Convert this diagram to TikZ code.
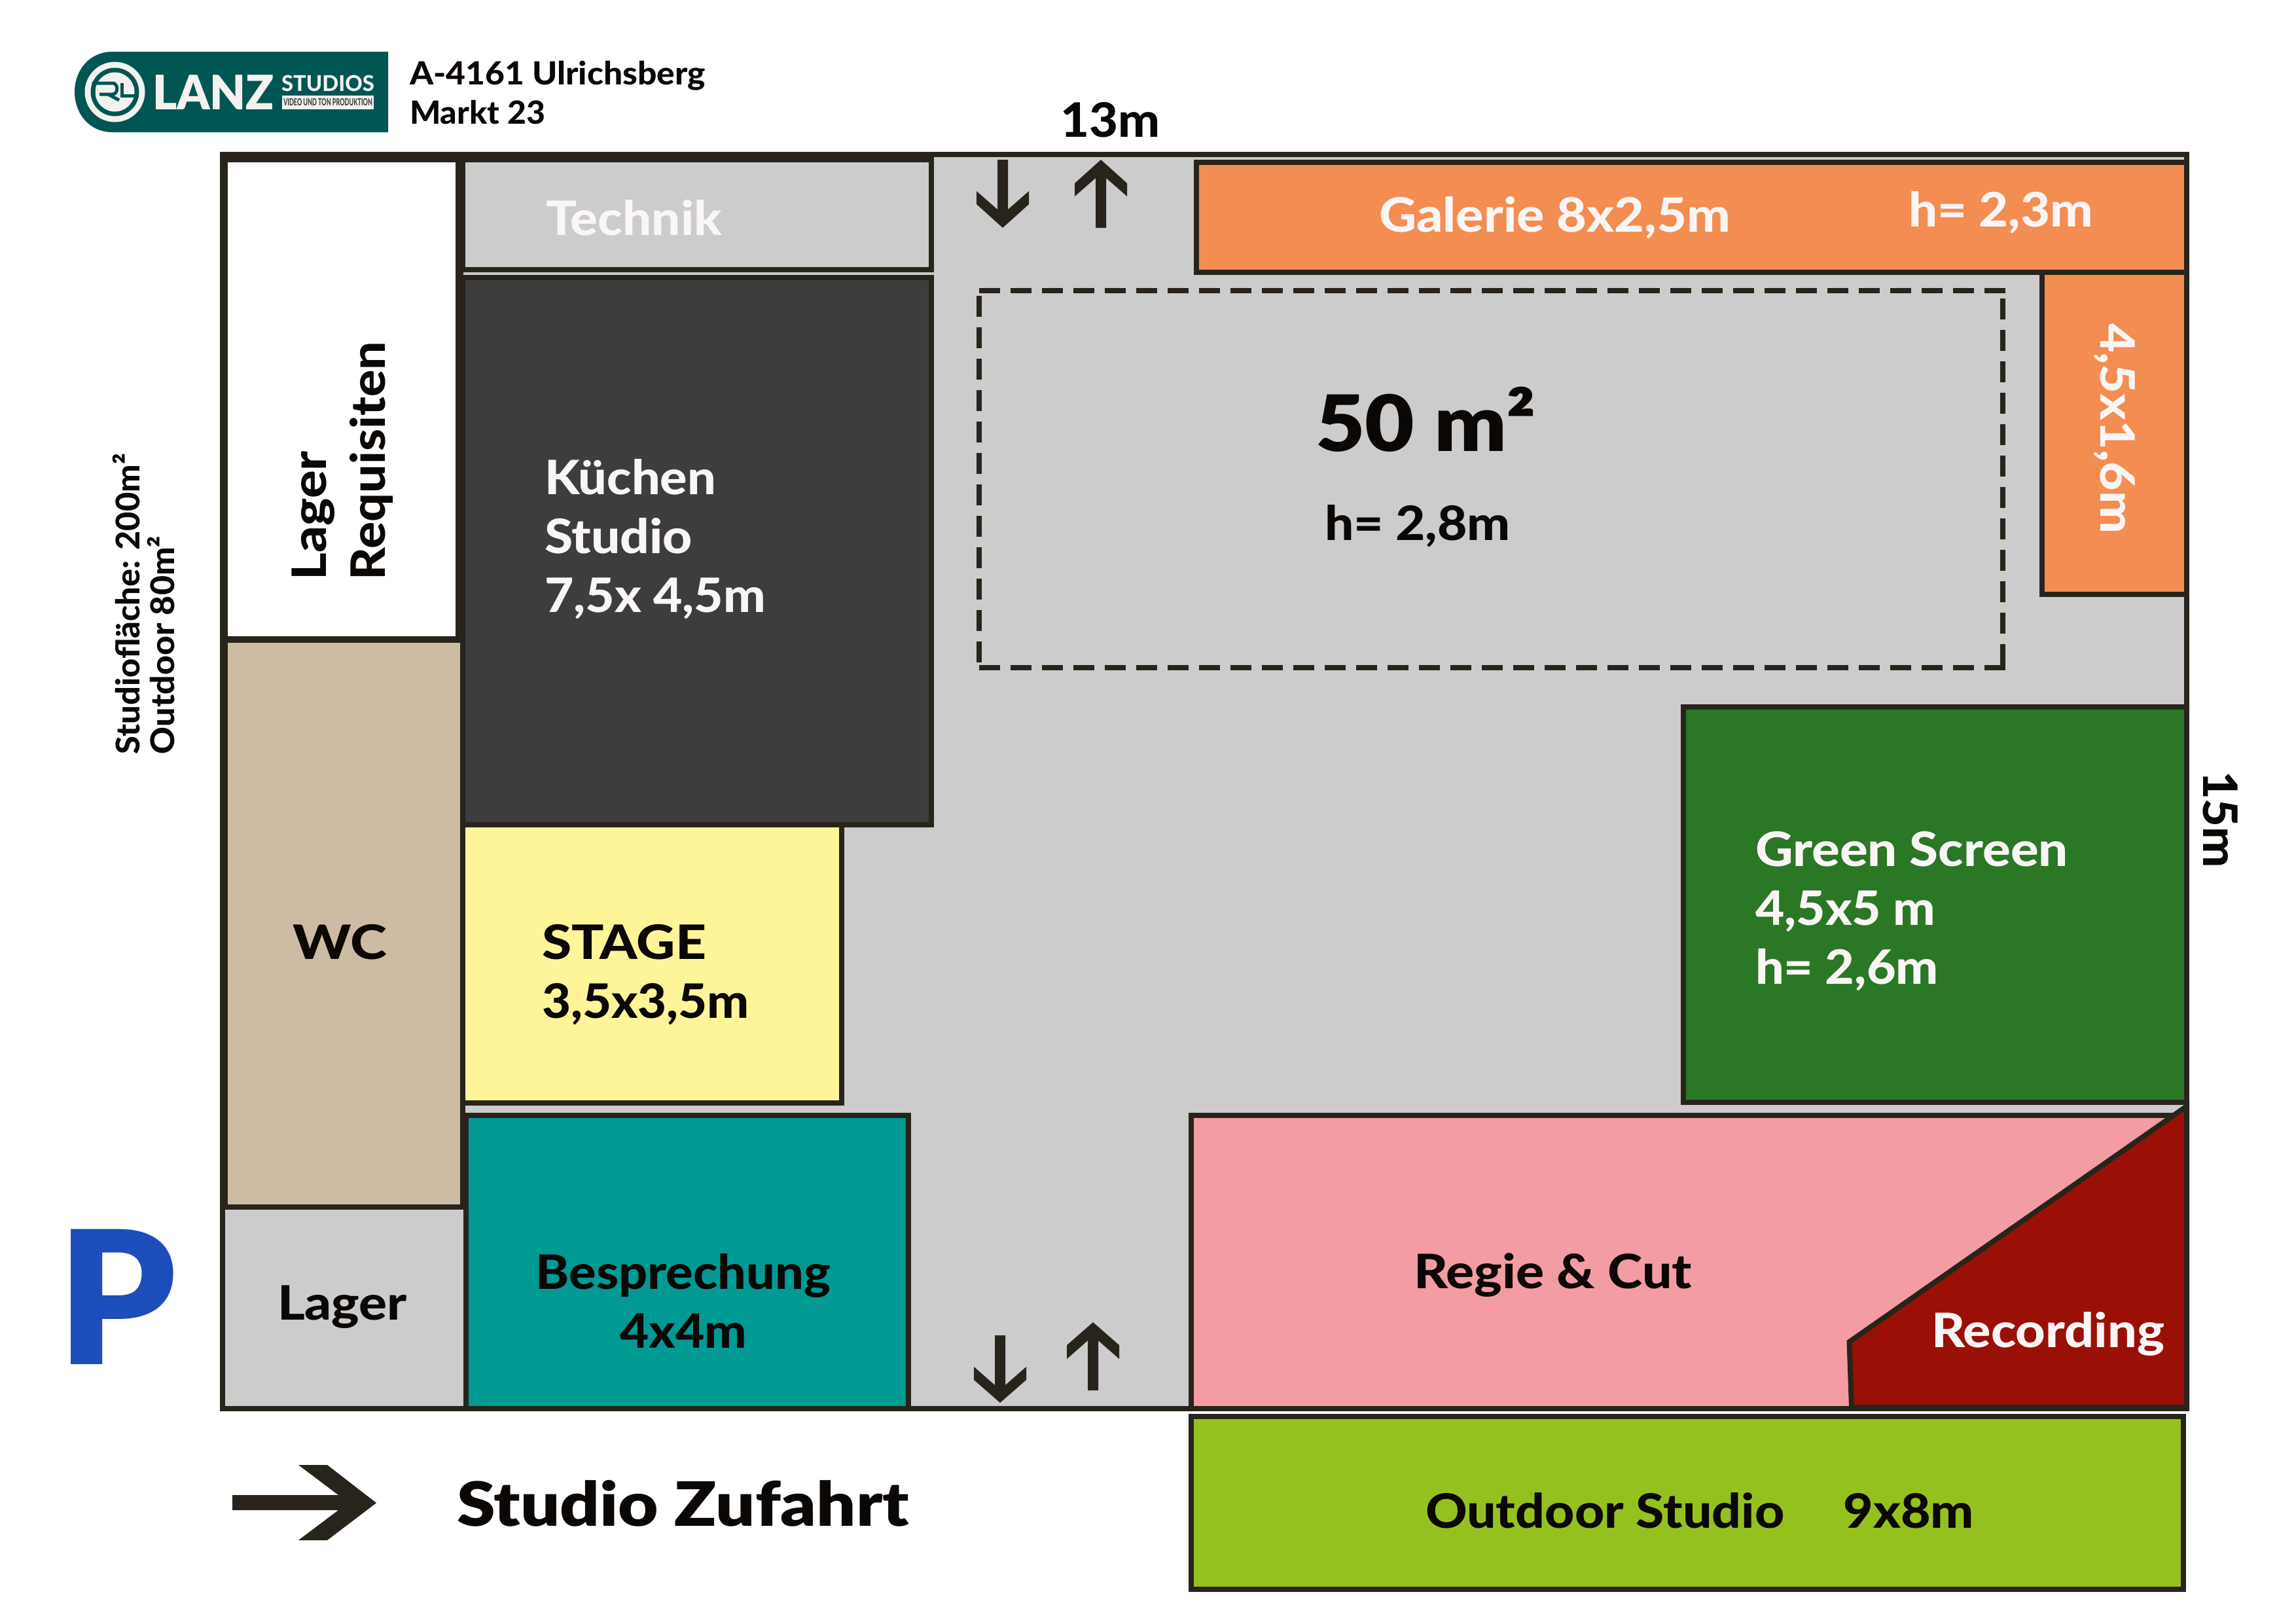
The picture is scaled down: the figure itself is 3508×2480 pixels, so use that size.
\documentclass[tikz,border=0pt]{standalone}
\usepackage{fontspec}
\usepackage{graphicx}
\setmainfont{Lato}
\newfontfamily\blk{Lato Black}
\newfontfamily\hvy{Lato Heavy}
\newdimen\px \px=0.24pt
\newcommand{\fw}[2]{\resizebox{#1\px}{\height}{#2}}
\definecolor{ink}{HTML}{28241C}
\definecolor{hall}{HTML}{CCCCCC}
\definecolor{galerie}{HTML}{F48D51}
\definecolor{kueche}{HTML}{3D3D3D}
\definecolor{stagey}{HTML}{FEF599}
\definecolor{wcb}{HTML}{CEBBA3}
\definecolor{teal2}{HTML}{009A93}
\definecolor{pinkr}{HTML}{F49CA3}
\definecolor{redr}{HTML}{9B1006}
\definecolor{greenr}{HTML}{2A7726}
\definecolor{lime}{HTML}{95C11F}
\definecolor{logog}{HTML}{005652}
\definecolor{pblue}{HTML}{1D4DBB}
\definecolor{wtxt}{HTML}{FBF6F6}
\definecolor{btxt}{HTML}{0A0705}
\definecolor{logow}{HTML}{F4F2F0}
\tikzset{
  room/.style={draw=ink,line width=1.92pt,miter limit=10},
  lab/.style={inner sep=0pt,outer sep=0pt,anchor=base west,text=btxt,font=\hvy\fontsize{17.4}{21.6}\selectfont},
  wlab/.style={lab,text=wtxt},
  small/.style={lab,font=\hvy\fontsize{12}{12.7}\selectfont},
  addr/.style={lab,font=\hvy\fontsize{11.7}{14.2}\selectfont},
  arrowk/.style={fill=ink,draw=none},
  dashline/.style={draw=ink,line width=1.92pt,dash pattern=on 7.68pt off 3.84pt},
}
\begin{document}
\begin{tikzpicture}[x=0.24pt,y=-0.24pt]
\path[use as bounding box] (0,0) rectangle (3508,2480);
% hall
\draw[room,fill=hall] (340,236) rectangle (3341,2152);
% rooms
\draw[room,fill=white,line width=2.88pt] (342,242) rectangle (702,978);
\draw[room,fill=hall] (707,244) rectangle (1423,412);
\draw[room,fill=wcb] (342,978) rectangle (707,1844);
\fill[ink] (336,232) rectangle (348,1847);
\draw[room,fill=hall] (340,1844) rectangle (712,2152);
\draw[room,fill=stagey] (707,1260) rectangle (1286,1685);
\draw[room,fill=kueche] (707,424) rectangle (1423,1260);
\draw[room,fill=teal2] (712,1704) rectangle (1388,2152);
\draw[room,fill=galerie] (1828,248) rectangle (3341,416);
\draw[room,fill=galerie] (3120,416) rectangle (3341,908);
\draw[room,fill=greenr] (2572,1080) rectangle (3341,1684);
\draw[room,fill=pinkr] (1820,1704) rectangle (3341,2152);
\draw[room,fill=redr] (3341,1690) -- (2825.5,2050) -- (2829,2150) -- (3341,2150) -- cycle;
\draw[room,fill=lime] (1820,2164) rectangle (3336,2428);
% dashed 50 m2 area
\draw[dashline] (1496,444) -- (3064,444);
\draw[dashline] (1496,1020) -- (3064,1020);
\draw[dashline] (1496,452) -- (1496,1016);
\draw[dashline] (3060,456) -- (3060,1020);
% arrows
\fill[arrowk] (1524,244) -- (1540,244) -- (1540,320) -- (1572,292) -- (1572,312) -- (1532,348) -- (1492,312) -- (1492,292) -- (1524,320) -- cycle;
\fill[arrowk] (1674,348) -- (1690,348) -- (1690,272) -- (1722,300) -- (1722,280) -- (1682,244) -- (1642,280) -- (1642,300) -- (1674,272) -- cycle;
\fill[arrowk] (1520,2040) -- (1536,2040) -- (1536,2116) -- (1568,2088) -- (1568,2108) -- (1528,2143) -- (1488,2108) -- (1488,2088) -- (1520,2116) -- cycle;
\fill[arrowk] (1662,2124) -- (1678,2124) -- (1678,2048) -- (1710,2076) -- (1710,2055) -- (1670,2020) -- (1630,2055) -- (1630,2076) -- (1662,2048) -- cycle;
\fill[arrowk] (355,2284) -- (517,2284) -- (456,2238) -- (500,2238) -- (575,2296) -- (500,2353) -- (456,2353) -- (517,2307) -- (355,2307) -- cycle;
% logo
\fill[logog] (593,79) -- (172,79) .. controls (136,79) and (114,108) .. (114,140.5) .. controls (114,173) and (136,202) .. (172,202) -- (593,202) -- cycle;
\fill[logow] (175.5,140.5) circle (46);
\fill[logog] (175.5,140.5) circle (37);
\fill[logow] (175.5,140.5) circle (30);
\draw[logog,line width=1.2pt] (143,150) -- (143,127) -- (172,127) .. controls (181,127) and (181,144) .. (172,144) -- (152,144);
\draw[logog,line width=1.2pt] (165,144) -- (182,153);
\draw[logog,line width=1.2pt] (186,127) -- (186,146) -- (212,146);
\fill[logow] (431,146) rectangle (571,167);
\node[lab,text=logow,font=\blk\fontsize{17.4}{21}\selectfont] (lanz) at (233,167) {\fw{186}{LANZ}};
\node[lab,text=logow,font=\hvy\fontsize{8}{9}\selectfont] (studios) at (430,139) {\fw{142}{STUDIOS}};
\node[lab,text=kueche,font=\hvy\fontsize{3.6}{4.5}\selectfont] (video) at (433,161) {\fw{136}{VIDEO UND TON PRODUKTION}};
% labels
\node[addr,align=left] (address) at (626,189) {\fw{452}{A-4161 Ulrichsberg}\\\fw{207}{Markt 23}};
\node[lab] (w13) at (1620,209) {\fw{152}{13m}};
\node[wlab] (technik) at (834,359) {\fw{269}{Technik}};
\node[wlab,align=left] (kuechen) at (832,935) {\fw{262}{Küchen}\\\fw{226}{Studio}\\\fw{338}{7,5x 4,5m}};
\node[lab,align=left,rotate=90] (lagerreq) at (588,886) {\fw{197}{Lager}\\\fw{364}{Requisiten}};
\node[small,align=left,rotate=90] (flaeche) at (266,1152) {\fw{459}{Studiofläche: 200m²}\\\fw{333}{Outdoor 80m²}};
\node[lab] (wc) at (447,1465) {\fw{144}{WC}};
\node[lab,align=left] (stage) at (828,1555) {\fw{251}{STAGE}\\\fw{317}{3,5x3,5m}};
\node[lab] (lager) at (424,2016) {\fw{198}{Lager}};
\node[lab,align=center,anchor=base] (bespr) at (1044,2059) {\fw{450}{Besprechung}\\\fw{194}{4x4m}};
\node[wlab] (galtxt) at (2107,354) {\fw{537}{Galerie 8x2,5m}};
\node[wlab] (h23) at (2916,346) {\fw{282}{h= 2,3m}};
\node[wlab,rotate=-90] (g45) at (3209,494) {\fw{321}{4,5x1,6m}};
\node[lab,font=\blk\fontsize{28.5}{34}\selectfont] (m50) at (2010,689) {\fw{336}{50 m²}};
\node[lab] (h28) at (2024,825) {\fw{284}{h= 2,8m}};
\node[lab,rotate=-90] (w15) at (3366,1178) {\fw{148}{15m}};
\node[wlab,align=left] (green) at (2682,1503) {\fw{478}{Green Screen}\\\fw{275}{4,5x5 m}\\\fw{280}{h= 2,6m}};
\node[lab] (regie) at (2160,1968) {\fw{425}{Regie \& Cut}};
\node[wlab] (rec) at (2951,2058) {\fw{356}{Recording}};
\node[lab] (outdoor) at (2178,2334) {\fw{838}{Outdoor Studio\hspace{20pt}9x8m}};
\node[lab,font=\blk\fontsize{22.4}{27}\selectfont] (zufahrt) at (698,2331) {\fw{691}{Studio Zufahrt}};
\node[lab,text=pblue,font=\blk\fontsize{68}{80}\selectfont] (park) at (88,2084) {\fw{181}{P}};
\end{tikzpicture}
\end{document}
